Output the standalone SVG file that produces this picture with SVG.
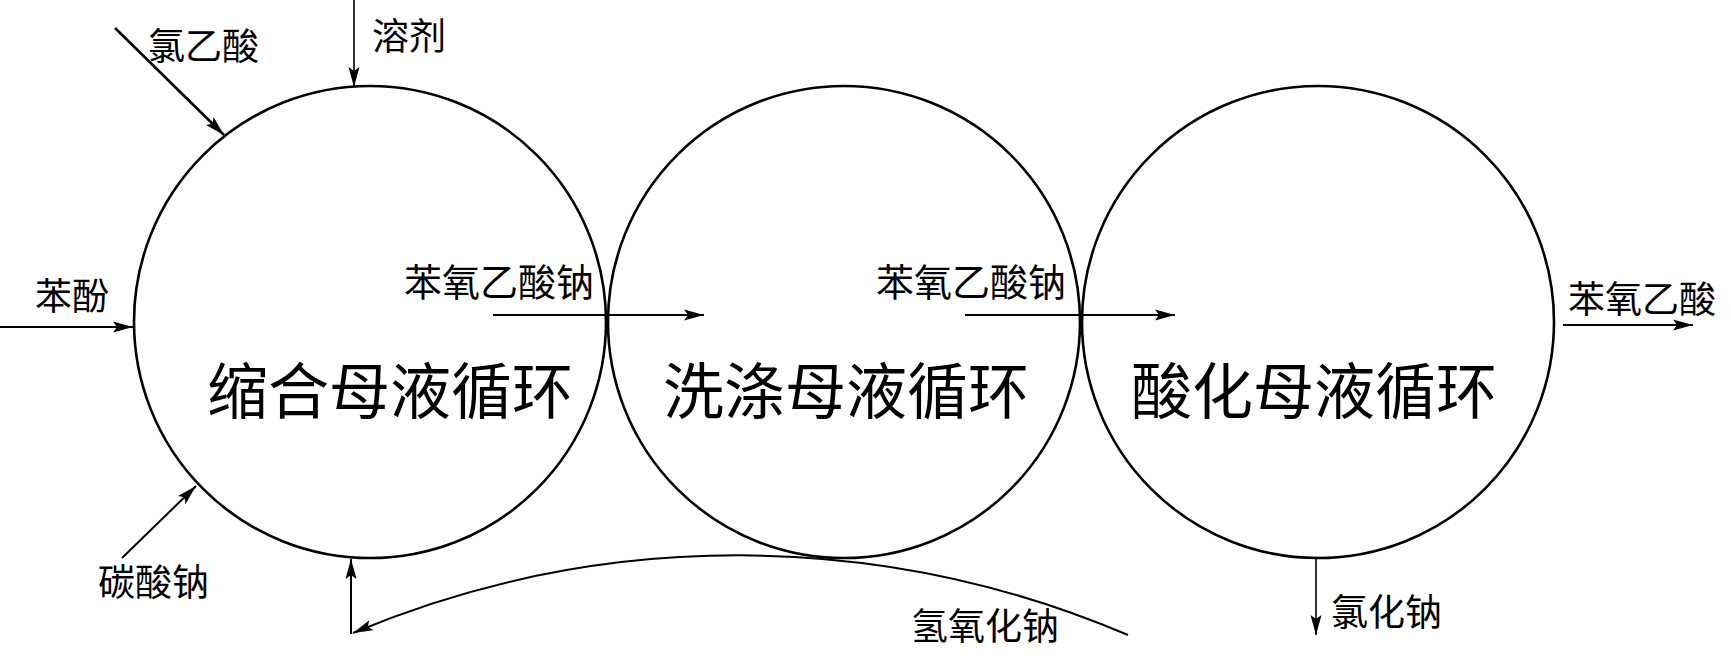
<svg xmlns="http://www.w3.org/2000/svg" width="1731" height="656" viewBox="0 0 1731 656">
<defs>
<style>
.c{fill:none;stroke:#000;stroke-width:2.6}
.l{fill:none;stroke:#000;stroke-width:2;marker-end:url(#ah)}
.t{font-family:"Noto Sans CJK SC","Noto Sans CJK JP",sans-serif;font-size:37px;fill:#000}
.big{font-family:"Noto Sans CJK SC","Noto Sans CJK JP",sans-serif;font-size:61px;fill:#000}
</style>
<marker id="ah" markerUnits="userSpaceOnUse" markerWidth="22" markerHeight="12" refX="20" refY="6" orient="auto">
<path d="M0,0.5 L20,6 L0,11.5 L4,6 Z" fill="#000"/>
</marker>
</defs>
<rect width="1731" height="656" fill="#fff"/>
<g id="node-condensation">
<circle class="c" cx="370" cy="322" r="236"/>
<text class="big" x="207" y="414">缩合母液循环</text>
</g>
<g id="node-washing">
<circle class="c" cx="844" cy="322" r="236"/>
<text class="big" x="663" y="414">洗涤母液循环</text>
</g>
<g id="node-acidification">
<circle class="c" cx="1318" cy="322" r="236"/>
<text class="big" x="1131" y="414">酸化母液循环</text>
</g>
<g id="connectors">
<line class="l" x1="115" y1="28" x2="224" y2="135" style="stroke-width:2.6"/>
<line class="l" x1="354" y1="0" x2="354" y2="87" style="stroke-width:1.6"/>
<line class="l" x1="0" y1="327" x2="133" y2="327"/>
<line class="l" x1="122" y1="558" x2="196" y2="486"/>
<line class="l" x1="493" y1="315" x2="704" y2="315"/>
<line class="l" x1="965" y1="315" x2="1175" y2="315"/>
<line class="l" x1="1563" y1="325" x2="1693" y2="325"/>
<line class="l" x1="1316" y1="558" x2="1316" y2="635" style="stroke-width:1.6"/>
<path class="l" d="M1128,635 A994,994 0 0 0 353,633"/>
<line class="l" x1="351" y1="634" x2="351" y2="559"/>
</g>
<g id="labels">
<text class="t" x="148" y="60">氯乙酸</text>
<text class="t" x="372" y="50">溶剂</text>
<text class="t" x="35" y="310">苯酚</text>
<text class="t" x="98" y="596">碳酸钠</text>
<text class="t" x="404" y="296" style="font-size:38px">苯氧乙酸钠</text>
<text class="t" x="876" y="296" style="font-size:38px">苯氧乙酸钠</text>
<text class="t" x="1568" y="313">苯氧乙酸</text>
<text class="t" x="911" y="640">氢氧化钠</text>
<text class="t" x="1331" y="626">氯化钠</text>
</g>
</svg>
